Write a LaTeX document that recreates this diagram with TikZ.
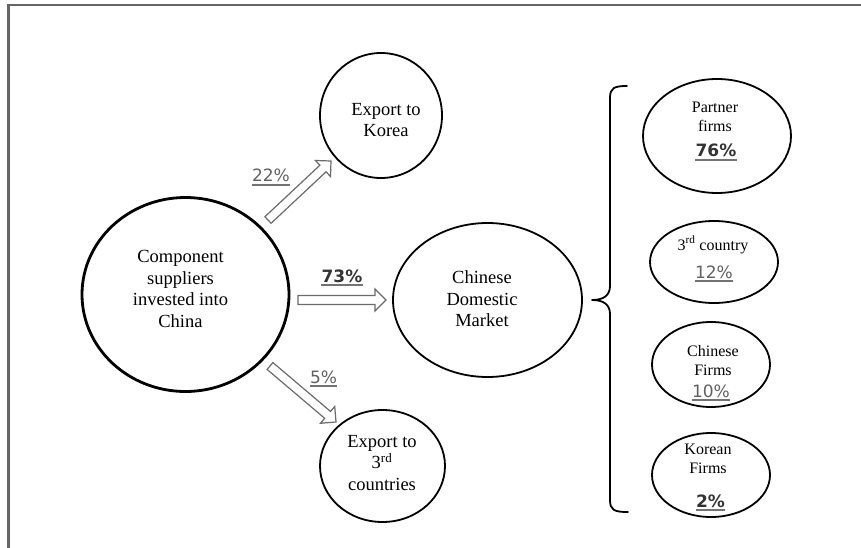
\documentclass[tikz,border=0pt]{standalone}
\usepackage{fontspec}
\setmainfont{Liberation Serif}
\newfontfamily\pctfont{DejaVu Sans}
\usetikzlibrary{shapes.geometric,calc}
\newcommand{\blockarrow}[2]{%
  \coordinate (#1h) at ($(#2)!11pt!(#1)$);
  \draw[blk] ($(#1)!4.5pt!90:(#2)$) -- ($(#1h)!4.5pt!90:(#2)$) -- ($(#1h)!11pt!90:(#2)$) -- (#2)
    -- ($(#1h)!11pt!-90:(#2)$) -- ($(#1h)!4.5pt!-90:(#2)$) -- ($(#1)!4.5pt!-90:(#2)$) -- cycle;}
\newcommand{\uline}[1]{\draw[ulinestyle] ([yshift=-3pt]#1.base west) -- ([yshift=-3pt]#1.base east);}
\begin{document}
\begin{tikzpicture}[x=1pt,y=-1pt,
  oval/.style={draw=black, ellipse, inner sep=0pt, line width=1.8pt},
  bigoval/.style={oval, line width=2.8pt},
  txt/.style={align=center, font=\fontsize{18.5}{21.5}\selectfont, inner sep=0pt},
  stxt/.style={align=center, font=\fontsize{16}{19}\selectfont, inner sep=0pt},
  pct/.style={font=\pctfont\fontsize{17}{20}\selectfont, text=black!62, inner sep=0pt, anchor=base},
  pctb/.style={pct, font=\pctfont\bfseries\fontsize{17}{20}\selectfont, text=black!80},
  ulinestyle/.style={draw=black!55, line width=1.4pt},
  blk/.style={draw=black!58, line width=1.2pt, fill=white},
]
\useasboundingbox (0,0) rectangle (861,548);
\fill[white] (0,0) rectangle (861,548);
% frame
\draw[draw=black!60, line width=2.4pt] (8.5,548) -- (8.5,5) -- (861,5);

% ellipses
\node[bigoval, minimum width=207pt, minimum height=194pt] (src) at (185.5,294.5) {};
\node[oval, minimum width=122pt, minimum height=125pt] (korea) at (381,115.5) {};
\node[oval, minimum width=189pt, minimum height=154pt] (cdm) at (487.5,300) {};
\node[oval, minimum width=125pt, minimum height=112pt] (third) at (382.5,466) {};
\node[oval, minimum width=148pt, minimum height=114pt] (partner) at (717,136) {};
\node[oval, minimum width=128pt, minimum height=82pt] (tcountry) at (714,262) {};
\node[oval, minimum width=118pt, minimum height=85pt] (chfirms) at (711,364.5) {};
\node[oval, minimum width=118pt, minimum height=84pt] (kofirms) at (711,475) {};

% texts
\node[txt] (srct) at (180.5,289) {Component\\suppliers\\invested into\\China};
\node[txt] (koreat) at (386,120) {Export to\\Korea};
\node[txt] (cdmt) at (482,299) {Chinese\\Domestic\\Market};
\node[txt] (thirdt) at (382,463) {Export to\\3\textsuperscript{rd}\\countries};
\node[stxt] (partnert) at (715,117) {Partner\\firms};
\node[stxt, anchor=base] (tcountryt) at (713,250) {3\textsuperscript{rd} country};
\node[stxt] (chfirmst) at (713,361) {Chinese\\Firms};
\node[stxt] (kofirmst) at (708,459) {Korean\\Firms};

% percentages
\node[pct] (p22) at (271,182) {22\%};
\node[pctb] (p73) at (342,282) {73\%};
\node[pct] (p5) at (323.5,383) {5\%};
\node[pctb] (p76) at (716,157) {76\%};
\node[pct] (p12) at (714,278) {12\%};
\node[pct] (p10) at (711,397) {10\%};
\node[pctb] (p2) at (710.5,507) {2\%};
\uline{p22}\uline{p73}\uline{p5}\uline{p76}\uline{p12}\uline{p10}\uline{p2}

% block arrows
\coordinate (a22) at (268,220); \coordinate (b22) at (331,161);
\coordinate (a73) at (298,300); \coordinate (b73) at (386,300);
\coordinate (a5) at (270,366);  \coordinate (b5) at (336,422);
\blockarrow{a22}{b22}
\blockarrow{a73}{b73}
\blockarrow{a5}{b5}

% brace
\draw[line width=1.8pt, line cap=round, line join=round]
  (627,86) .. controls (614,86) and (610,88) .. (610,98) -- (610,286)
  .. controls (610,295) and (604,300) .. (592,300)
  .. controls (604,300) and (610,305) .. (610,314) -- (610,500)
  .. controls (610,510) and (614,512) .. (628,512);
\end{tikzpicture}
\end{document}
